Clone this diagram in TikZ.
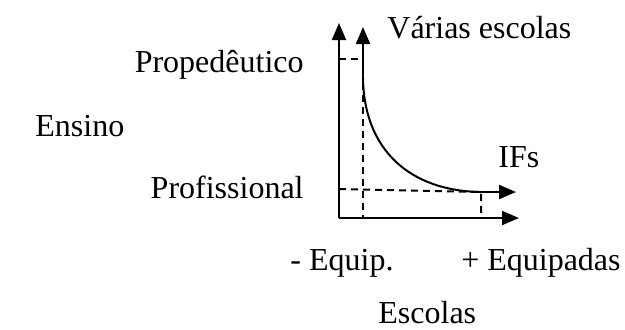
\documentclass[tikz,border=0pt]{standalone}
\usepackage{fontspec}
\setmainfont{Liberation Serif}
\usetikzlibrary{arrows.meta}

\begin{document}
\begin{tikzpicture}[x=0.5pt,y=-0.5pt]
        \tikzset{Label/.style={font=\fontsize{16}{19}\selectfont, inner sep=0pt},
                 AxisStyle/.style={line width=1pt, -{Triangle[length=8.5pt, width=7pt]}},
                 GuideStyle/.style={line width=1pt, dash pattern=on 3.5pt off 2.5pt}}
        \useasboundingbox (0,0) rectangle (625,329);
        \coordinate (O) at (339,218);
        \coordinate (Ytop) at (339,23);
        \coordinate (Xend) at (519,218);
        \coordinate (P) at (363,59);
        \coordinate (Pstart) at (363,78);
        \coordinate (Ptop) at (363,27);
        \coordinate (Q) at (481,192);
        \coordinate (Qend) at (516,192);
        \coordinate (Pleft) at (339,59);
        \coordinate (Qleft) at (339,189);
        \coordinate (Pbase) at (363,218);
        \coordinate (Qbase) at (481,218);
        % eixos
        \draw[AxisStyle] (O) -- (Ytop);
        \draw[AxisStyle] (O) -- (Xend);
        % linhas de guia
        \draw[GuideStyle] (Pleft) -- (P) -- (Pbase);
        \draw[GuideStyle] (Qleft) -- (Q) -- (Qbase);
        % curva
        \draw[line width=1pt] (Q) .. controls (410,191) and (364,150) .. (Pstart);
        \draw[AxisStyle] (Pstart) -- (Ptop);
        \draw[AxisStyle] (Q) -- (Qend);
        % textos
        \node[Label, anchor=base west] (varias) at (387,38) {Várias escolas};
        \node[Label, anchor=base west] (ifs) at (498,167) {IFs};
        \node[Label, anchor=base east] (proped) at (304,72) {Propedêutico};
        \node[Label, anchor=base west] (ensino) at (35,136) {Ensino};
        \node[Label, anchor=base east] (profis) at (304,198) {Profissional};
        \node[Label, anchor=base west] (menos) at (290,270) {- Equip.};
        \node[Label, anchor=base east] (mais) at (621,270) {+ Equipadas};
        \node[Label, anchor=base west] (escolas) at (378,323) {Escolas};
\end{tikzpicture}
\end{document}
